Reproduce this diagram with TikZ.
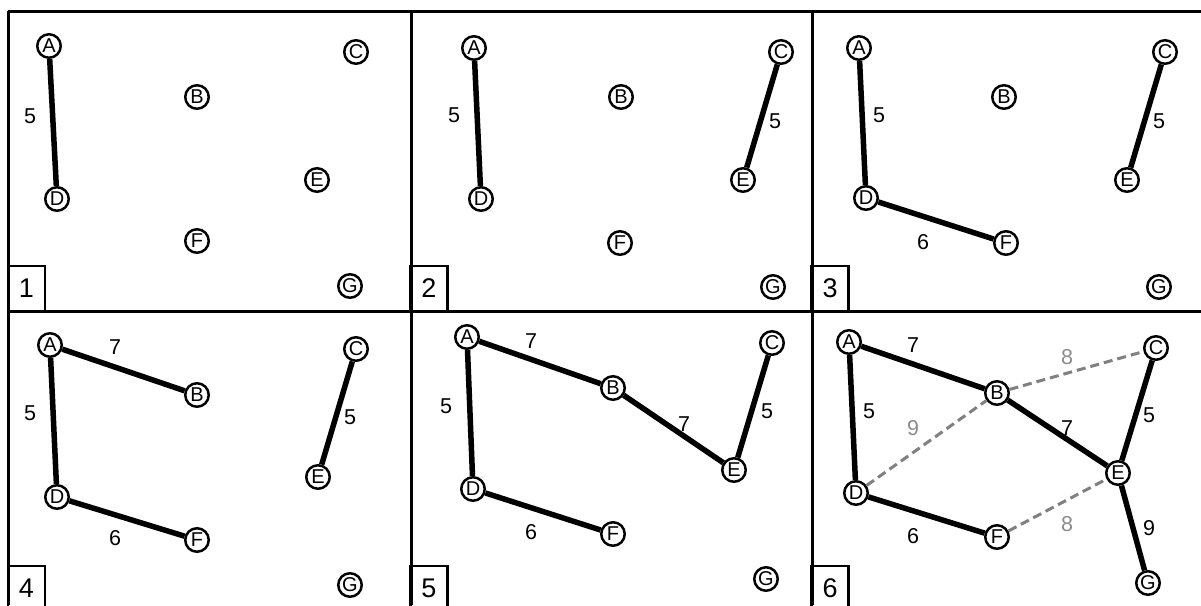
\documentclass[tikz,border=0pt]{standalone}
\usepackage{fontspec}
\setmainfont{Liberation Sans}
\definecolor{dgray}{RGB}{128,128,128}
\definecolor{lgray}{RGB}{140,140,140}
\begin{document}
\begin{tikzpicture}[x=1pt,y=-1pt,
  vtx/.style={circle,draw,line width=2.5pt,fill=white,minimum size=23.5pt,inner sep=0pt,font=\fontsize{20}{20}\selectfont},
  tree/.style={line width=5.5pt},
  cand/.style={draw=dgray,line width=3pt,dash pattern=on 9pt off 5pt},
  wt/.style={font=\fontsize{21.5}{21.5}\selectfont,inner sep=0pt},
  gwt/.style={wt,text=lgray},
  frame/.style={line width=3pt},
  tag/.style={draw,line width=2.5pt,minimum width=37pt,minimum height=45pt,inner sep=0pt,font=\fontsize{27}{27}\selectfont}
]
\useasboundingbox (0,0) rectangle (1201,605);
\clip (0,0) rectangle (1201,605);
\fill[white] (0,0) rectangle (1201,605);
% frames
\draw[frame] (8,11) -- (1201,11);
\draw[frame] (8,311) -- (1201,311);
\draw[frame] (8,11) -- (8,605);
\draw[frame] (411,11) -- (411,605);
\draw[frame] (812,11) -- (812,605);
\node[tag] (t1) at (26.5,288.5) {1};
\node[tag] (t2) at (429,288.5) {2};
\node[tag] (t3) at (830,288.5) {3};
\node[tag] (t4) at (26.5,588.5) {4};
\node[tag] (t5) at (429,588.5) {5};
\node[tag] (t6) at (830,588.5) {6};

% Panel 1
\node[vtx] (a1) at (49,46) {A};
\node[vtx] (b1) at (197,97) {B};
\node[vtx] (c1) at (356,52) {C};
\node[vtx] (d1) at (57,199) {D};
\node[vtx] (e1) at (317,180) {E};
\node[vtx] (f1) at (197,241) {F};
\node[vtx] (g1) at (350,286) {G};
\draw[tree] (a1) -- (d1);
\node[wt] (w1ad) at (30,116) {5};

% Panel 2
\node[vtx] (a2) at (474,48) {A};
\node[vtx] (b2) at (621,97) {B};
\node[vtx] (c2) at (781,52) {C};
\node[vtx] (d2) at (481,199) {D};
\node[vtx] (e2) at (743,180) {E};
\node[vtx] (f2) at (620,243) {F};
\node[vtx] (g2) at (773,287) {G};
\draw[tree] (a2) -- (d2);
\draw[tree] (c2) -- (e2);
\node[wt] (w2ad) at (454,115) {5};
\node[wt] (w2ce) at (775,121) {5};

% Panel 3
\node[vtx] (a3) at (859,48) {A};
\node[vtx] (b3) at (1004,97) {B};
\node[vtx] (c3) at (1165,52) {C};
\node[vtx] (d3) at (866,198) {D};
\node[vtx] (e3) at (1127,180) {E};
\node[vtx] (f3) at (1006,243) {F};
\node[vtx] (g3) at (1159,287) {G};
\draw[tree] (a3) -- (d3);
\draw[tree] (c3) -- (e3);
\draw[tree] (d3) -- (f3);
\node[wt] (w3ad) at (879,115) {5};
\node[wt] (w3ce) at (1159,121) {5};
\node[wt] (w3df) at (923,242) {6};

% Panel 4
\node[vtx] (a4) at (50,345) {A};
\node[vtx] (b4) at (197,395) {B};
\node[vtx] (c4) at (356,349) {C};
\node[vtx] (d4) at (57,497) {D};
\node[vtx] (e4) at (318,477) {E};
\node[vtx] (f4) at (197,540) {F};
\node[vtx] (g4) at (350,585) {G};
\draw[tree] (a4) -- (b4);
\draw[tree] (a4) -- (d4);
\draw[tree] (c4) -- (e4);
\draw[tree] (d4) -- (f4);
\node[wt] (w4ab) at (115,347) {7};
\node[wt] (w4ad) at (30,413) {5};
\node[wt] (w4ce) at (350,417) {5};
\node[wt] (w4df) at (115,538) {6};

% Panel 5
\node[vtx] (a5) at (467,337) {A};
\node[vtx] (b5) at (613,388) {B};
\node[vtx] (c5) at (772,343) {C};
\node[vtx] (d5) at (473,489) {D};
\node[vtx] (e5) at (734,470) {E};
\node[vtx] (f5) at (613,534) {F};
\node[vtx] (g5) at (766,579) {G};
\draw[tree] (a5) -- (b5);
\draw[tree] (a5) -- (d5);
\draw[tree] (b5) -- (e5);
\draw[tree] (c5) -- (e5);
\draw[tree] (d5) -- (f5);
\node[wt] (w5ab) at (531,341) {7};
\node[wt] (w5ad) at (446,406) {5};
\node[wt] (w5be) at (684,424) {7};
\node[wt] (w5ce) at (767,411) {5};
\node[wt] (w5df) at (531,532) {6};

% Panel 6
\node[vtx] (a6) at (849,342) {A};
\node[vtx] (b6) at (997,393) {B};
\node[vtx] (c6) at (1156,348) {C};
\node[vtx] (d6) at (856,493) {D};
\node[vtx] (e6) at (1118,473) {E};
\node[vtx] (f6) at (997,537) {F};
\node[vtx] (g6) at (1148,583) {G};
\draw[cand] (b6) -- (c6);
\draw[cand] (d6) -- (b6);
\draw[cand] (f6) -- (e6);
\draw[tree] (a6) -- (b6);
\draw[tree] (a6) -- (d6);
\draw[tree] (b6) -- (e6);
\draw[tree] (c6) -- (e6);
\draw[tree] (d6) -- (f6);
\draw[tree] (e6) -- (g6);
\node[wt] (w6ab) at (913,345) {7};
\node[gwt] (w6bc) at (1067,357) {8};
\node[wt] (w6ad) at (869,411) {5};
\node[gwt] (w6db) at (913,428) {9};
\node[wt] (w6be) at (1067,428) {7};
\node[wt] (w6ce) at (1149,415) {5};
\node[gwt] (w6fe) at (1067,524) {8};
\node[wt] (w6df) at (913,536) {6};
\node[wt] (w6eg) at (1149,528) {9};
\end{tikzpicture}
\end{document}
